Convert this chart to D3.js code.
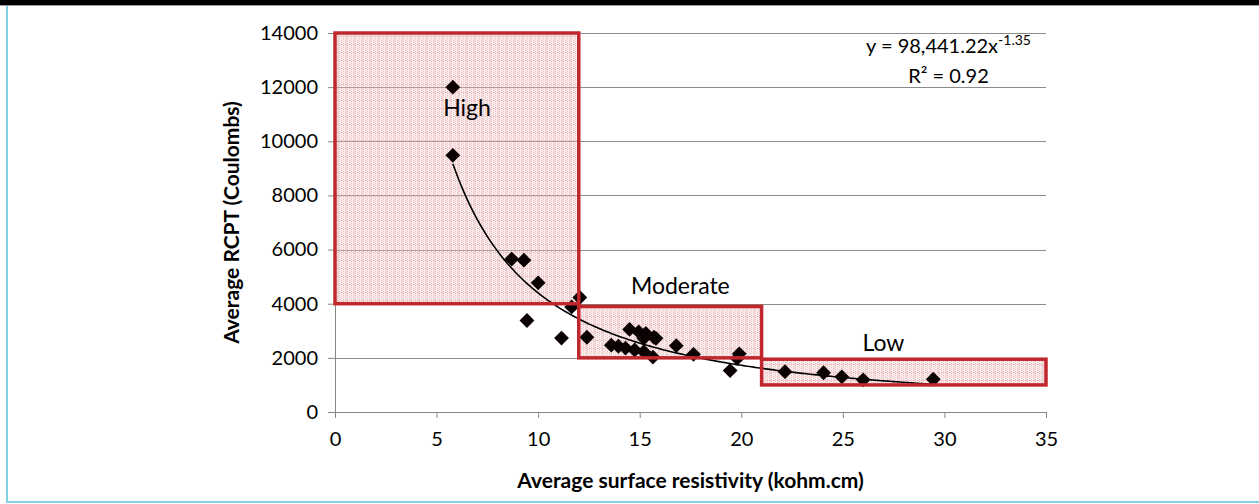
<!DOCTYPE html>
<meta charset="utf-8">
<style>
  body { margin: 0; background: #fff; }
  svg text { font-family: Lato, "Open Sans", sans-serif; fill: #000; }
  .grid line { stroke: #8c8c8c; stroke-width: 1; }
  .axis path, .axis line { stroke: #868686; }
  .axis text { font-size: 20px; }
</style>
<body>
<svg id="chart" width="1259" height="504"></svg>
<script src="https://d3js.org/d3.v7.min.js"></script>
<script>
// resistivity (kohm.cm) and RCPT (Coulombs) readings
var resistivity = [5.8, 5.8, 8.7, 9.3, 10.0, 9.45, 11.15, 11.65, 12.05, 12.4,
  13.6, 13.95, 14.3, 14.5, 14.75, 14.95, 15.2, 15.3, 15.2, 15.7, 15.8, 15.65,
  16.8, 17.65, 19.45, 19.8, 19.9, 22.15, 24.05, 24.95, 26.0, 29.45];
var rcpt = [12000, 9480, 5650, 5610, 4770, 3380, 2730, 3880, 4230, 2760,
  2470, 2430, 2360, 3050, 2290, 2960, 2230, 2900, 2720, 2760, 2720, 2030,
  2450, 2130, 1530, 1980, 2150, 1490, 1450, 1300, 1190, 1210];

// classification boxes: [xMin, xMax, yMin, yMax]
var boxNames = ["High", "Moderate", "Low"];
var boxExtents = [[0, 12, 4000, 14000], [12, 21, 2000, 3900], [21, 35, 1000, 1950]];
var xTicks = [0, 5, 10, 15, 20, 25, 30, 35];
var yTicks = [0, 2000, 4000, 6000, 8000, 10000, 12000, 14000];

var fitA = 98441.22, fitB = -1.35;

var svg = d3.select("#chart"),
    margin = {top: 33, right: 213, bottom: 92, left: 335},
    width = +svg.attr("width") - margin.left - margin.right,
    height = +svg.attr("height") - margin.top - margin.bottom;

// frame
svg.append("rect").attr("x", 0).attr("y", 0).attr("width", 1259).attr("height", 5).attr("fill", "#000");
svg.append("line").attr("x1", 0).attr("x2", 1259).attr("y1", 5.5).attr("y2", 5.5).attr("stroke", "#999");
svg.append("line").attr("x1", 7).attr("x2", 7).attr("y1", 6).attr("y2", 503).attr("stroke", "#86d0e6").attr("stroke-width", 2);
svg.append("line").attr("x1", 7).attr("x2", 1259).attr("y1", 502).attr("y2", 502).attr("stroke", "#86d0e6").attr("stroke-width", 2);

// dotted fill pattern for the boxes
var defs = svg.append("defs");
var pat = defs.append("pattern").attr("id", "dots")
    .attr("patternUnits", "userSpaceOnUse").attr("width", 8).attr("height", 8);
pat.append("rect").attr("width", 8).attr("height", 8).attr("fill", "#f4c9cb").attr("fill-opacity", 0.3);
for (var i = 0; i < 8; i += 2) {
  for (var j = (i / 2) % 2; j < 8; j += 2) {
    pat.append("rect").attr("x", i).attr("y", j).attr("width", 1).attr("height", 1)
      .attr("fill", "#dd8f93").attr("fill-opacity", 0.5);
  }
}
pat.append("rect").attr("x", 0).attr("y", 3).attr("width", 8).attr("height", 1).attr("fill", "#e3a1a4").attr("fill-opacity", 0.3);
pat.append("rect").attr("x", 3).attr("y", 0).attr("width", 1).attr("height", 8).attr("fill", "#e3a1a4").attr("fill-opacity", 0.3);

var g = svg.append("g").attr("transform", "translate(" + margin.left + "," + margin.top + ")");

var x = d3.scaleLinear().domain([0, 35]).range([0, width]);
var y = d3.scaleLinear().domain([0, 14000]).range([height, 0]);

// gridlines
g.append("g").attr("class", "grid")
  .selectAll("line").data(yTicks.slice(1)).enter().append("line")
  .attr("x1", 0).attr("x2", width)
  .attr("y1", function (d) { return Math.round(y(d)) + 0.5; })
  .attr("y2", function (d) { return Math.round(y(d)) + 0.5; });

// axes
g.append("g").attr("class", "axis")
  .attr("transform", "translate(0," + height + ")")
  .call(d3.axisBottom(x).tickValues(xTicks).tickSize(6).tickPadding(14).tickSizeOuter(6))
  .call(function (a) { a.selectAll("text").attr("dy", "0.71em"); });

g.append("g").attr("class", "axis")
  .call(d3.axisLeft(y).tickValues(yTicks).tickFormat(d3.format("d")).tickSize(7).tickPadding(10).tickSizeOuter(0));

function boxRect(sel) {
  sel.attr("x", function (d) { return x(d[0]); })
    .attr("y", function (d) { return y(d[3]); })
    .attr("width", function (d) { return x(d[1]) - x(d[0]); })
    .attr("height", function (d) { return y(d[2]) - y(d[3]); });
}

// box fills
g.selectAll(".boxfill").data(boxExtents).enter().append("rect")
  .attr("class", "boxfill").call(boxRect)
  .attr("fill", "url(#dots)");

// power trend line
var xs = d3.range(d3.min(resistivity), d3.max(resistivity) + 0.001, 0.1);
g.append("path")
  .datum(xs)
  .attr("fill", "none").attr("stroke", "#000").attr("stroke-width", 1.6)
  .attr("d", d3.line()
    .x(function (d) { return x(d); })
    .y(function (d) { return y(fitA * Math.pow(d, fitB)); }));

// points
g.selectAll(".pt").data(resistivity).enter().append("path")
  .attr("class", "pt")
  .attr("d", d3.symbol().type(d3.symbolDiamond2).size(140))
  .attr("fill", "#0a0202")
  .attr("transform", function (d, i) { return "translate(" + x(d) + "," + y(rcpt[i]) + ")"; });

// box outlines
g.selectAll(".box").data(boxExtents).enter().append("rect")
  .attr("class", "box").call(boxRect)
  .attr("fill", "none")
  .attr("stroke", "#c0282d").attr("stroke-width", 3.5);

// box labels
var labelPos = [[6.5, 10950], [17, 4350], [27, 2250]];
g.selectAll(".lbl").data(boxNames).enter().append("text")
  .attr("x", function (d, i) { return x(labelPos[i][0]); })
  .attr("y", function (d, i) { return y(labelPos[i][1]); })
  .attr("text-anchor", "middle")
  .style("font-size", "23px")
  .text(function (d) { return d; });

// equation
var eq = g.append("text").attr("x", x(30.2)).attr("y", y(13250)).attr("text-anchor", "middle").style("font-size", "20px");
eq.append("tspan").text("y = 98,441.22x");
eq.append("tspan").attr("dy", -8).style("font-size", "14px").text("-1.35");
g.append("text").attr("x", x(30.2)).attr("y", y(12150)).attr("text-anchor", "middle").style("font-size", "20px")
  .text("R² = 0.92");

// axis titles
g.append("text")
  .attr("transform", "translate(" + (-96) + "," + (height / 2) + ") rotate(-90)")
  .attr("text-anchor", "middle").style("font-size", "21px").style("font-weight", "bold")
  .text("Average RCPT (Coulombs)");
g.append("text")
  .attr("x", width / 2).attr("y", height + 76)
  .attr("text-anchor", "middle").style("font-size", "21px").style("font-weight", "bold")
  .text("Average surface resistivity (kohm.cm)");
</script>
</body>
